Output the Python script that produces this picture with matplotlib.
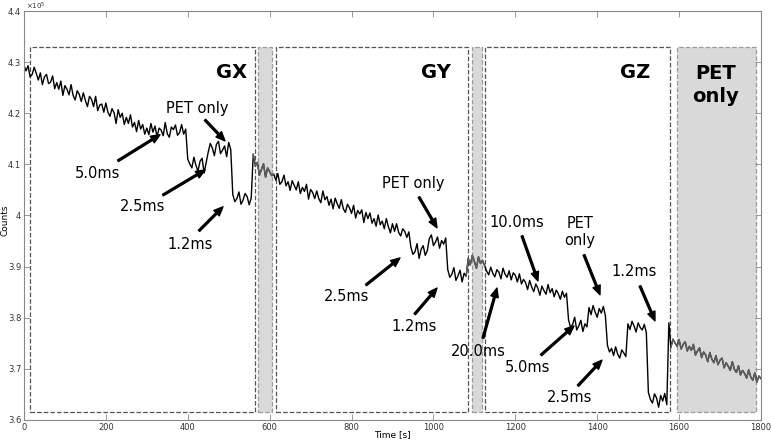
import numpy as np
import matplotlib
matplotlib.use("Agg")
import matplotlib.pyplot as plt
from matplotlib.patches import Rectangle
from matplotlib.ticker import FuncFormatter

# counts (x 1e5), one sample every 5 s
gx_5ms = [4.293, 4.283, 4.293, 4.271, 4.276, 4.290, 4.278, 4.265, 4.279, 4.256,
          4.271, 4.276, 4.258, 4.261, 4.273, 4.248, 4.260, 4.247, 4.263, 4.235,
          4.254, 4.247, 4.236, 4.256, 4.235, 4.226, 4.244, 4.237, 4.223, 4.240,
          4.225, 4.213, 4.233, 4.227, 4.213, 4.233, 4.205, 4.216, 4.218, 4.202,
          4.220, 4.202, 4.194, 4.209, 4.201, 4.180, 4.207, 4.192, 4.200, 4.178,
          4.192, 4.180, 4.197, 4.173, 4.182, 4.164, 4.186, 4.169, 4.178, 4.159,
          4.171, 4.158, 4.180, 4.163, 4.175, 4.154, 4.171, 4.167, 4.156, 4.182,
          4.160, 4.153, 4.173, 4.168, 4.177, 4.157, 4.162, 4.178, 4.159, 4.169]
gx_25ms = [4.110, 4.101, 4.093, 4.114, 4.098, 4.087, 4.106, 4.112, 4.083, 4.103]
gx_pet = [4.124, 4.141, 4.132, 4.117, 4.139, 4.145, 4.121, 4.128, 4.136, 4.115,
          4.143, 4.129]
gx_12ms = [4.041, 4.027, 4.033, 4.046, 4.022, 4.030, 4.043, 4.037, 4.021, 4.034]
rest_1 = [4.120, 4.097, 4.104, 4.079, 4.090, 4.101, 4.075, 4.093, 4.086, 4.078]
gy_5ms = [4.081, 4.069, 4.082, 4.061, 4.066, 4.079, 4.058, 4.066, 4.049, 4.068,
          4.059, 4.050, 4.066, 4.043, 4.055, 4.047, 4.061, 4.032, 4.051, 4.045,
          4.033, 4.048, 4.033, 4.025, 4.048, 4.031, 4.037, 4.020, 4.032, 4.013,
          4.034, 4.023, 4.014, 4.031, 4.013, 4.006, 4.022, 4.015, 4.004, 4.020,
          3.995, 4.010, 4.003, 4.011, 3.986, 4.006, 3.994, 4.005, 3.985, 3.994,
          3.979, 4.001, 3.982, 3.989, 3.974, 3.994, 3.978, 3.966, 3.984, 3.969,
          3.984, 3.967, 3.960, 3.974, 3.969, 3.957, 3.968]
gy_25ms = [3.938, 3.924, 3.929, 3.945, 3.916, 3.934, 3.941, 3.922, 3.931]
gy_pet = [3.955, 3.962, 3.941, 3.948, 3.958, 3.936, 3.951, 3.944, 3.956]
gy_12ms = [3.894, 3.879, 3.885, 3.898, 3.873, 3.882, 3.893, 3.870, 3.887, 3.881]
rest_2 = [3.916, 3.903, 3.922, 3.910, 3.897, 3.919, 3.906, 3.912]
gz_long = [3.902, 3.891, 3.884, 3.899, 3.887, 3.880, 3.894, 3.889, 3.876, 3.897,
           3.885, 3.879, 3.892, 3.874, 3.888, 3.883, 3.870, 3.886, 3.866, 3.875,
           3.869, 3.855, 3.873, 3.860, 3.851, 3.866, 3.858, 3.844, 3.862, 3.853,
           3.846, 3.865, 3.849, 3.857, 3.841, 3.854, 3.847, 3.836, 3.852, 3.840,
           3.848]
gz_a = [3.796, 3.781, 3.787, 3.801, 3.776, 3.784, 3.795, 3.773, 3.788, 3.782]
gz_pet = [3.820, 3.806, 3.824, 3.811, 3.801, 3.818, 3.809, 3.822, 3.804]
gz_b = [3.746, 3.733, 3.740, 3.726, 3.743, 3.729, 3.721, 3.737, 3.731, 3.724]
gz_c = [3.788, 3.777, 3.793, 3.784, 3.772, 3.790, 3.781, 3.776, 3.787, 3.771]
gz_d = [3.654, 3.640, 3.633, 3.651, 3.643, 3.625, 3.648, 3.637, 3.652, 3.630]
pet_only = [3.790, 3.742, 3.758, 3.751, 3.744, 3.757, 3.739, 3.748, 3.753, 3.735,
            3.744, 3.736, 3.748, 3.727, 3.735, 3.741, 3.722, 3.733, 3.727, 3.714,
            3.732, 3.719, 3.712, 3.726, 3.708, 3.717, 3.721, 3.702, 3.712, 3.705,
            3.697, 3.714, 3.699, 3.693, 3.706, 3.688, 3.697, 3.691, 3.682, 3.698,
            3.684, 3.678, 3.692, 3.674, 3.686, 3.681]

S = 1e5
time = np.arange(0, 1801, 5)
counts = np.concatenate([gx_5ms, gx_25ms, gx_pet, gx_12ms, rest_1,
                         gy_5ms, gy_25ms, gy_pet, gy_12ms, rest_2,
                         gz_long, gz_a, gz_pet, gz_b, gz_c, gz_d, pet_only]) * S

fig = plt.figure(figsize=(7.71, 4.40), dpi=100)
ax = fig.add_axes([0.0311, 0.0455, 0.9559, 0.9295])

# measurement boxes
y0, y1 = 3.6156 * S, 4.3296 * S
for a, b in [(14.7, 564), (615.5, 1084.4), (1126, 1577.7)]:
    ax.add_patch(Rectangle((a, y0), b - a, y1 - y0, fill=False, ec='#555555',
                           ls='--', lw=0.9, zorder=1))
for a, b in [(571.5, 605.7), (1093, 1119), (1595, 1788)]:
    ax.add_patch(Rectangle((a, y0), b - a, y1 - y0, fc='#d9d9d9', ec='#9a9a9a',
                           ls='--', lw=0.9, zorder=0))

ax.plot(time, counts, color='black', lw=1.0, zorder=2)
rest = ((time >= 560) & (time <= 610)) | ((time >= 1080) & (time <= 1125)) | (time >= 1580)
ax.plot(time, np.where(rest, counts, np.nan), color='#606060', lw=1.0, zorder=3)

ax.set_xlim(0, 1800)
ax.set_ylim(3.6 * S, 4.4 * S)
ax.set_xticks(np.arange(0, 1801, 200))
ax.set_yticks(np.arange(3.6, 4.41, 0.1) * S)
ax.yaxis.set_major_formatter(FuncFormatter(lambda v, p: '%g' % round(v / S, 2)))
ax.tick_params(direction='in', top=True, right=True, length=4, width=0.6,
               color='#888888', labelsize=6, labelcolor='#333333', pad=2)
for s in ax.spines.values():
    s.set_color('#888888')
    s.set_linewidth(0.8)
fig.text(0.509, 0.002, 'Time [s]', fontsize=6.5, ha='center', va='bottom')
fig.text(0.001, 0.5, 'Counts', fontsize=6.5, rotation=90, ha='left', va='center')
fig.text(0.034, 0.999, r'$\times10^5$', fontsize=5, color='#333333',
         ha='left', va='top')

# region labels
for x, y, lab in [(508, 4.279, 'GX'), (1006, 4.279, 'GY'), (1492, 4.279, 'GZ'),
                  (1690, 4.255, 'PET\nonly')]:
    ax.text(x, y * S, lab, fontsize=14, fontweight='bold', ha='center',
            va='center', linespacing=1.3)

arrow = dict(facecolor='black', edgecolor='black', width=1.3, headwidth=5.5,
             headlength=6.5, shrink=0.0)
# label, label position, arrow tail, arrow tip
notes = [
    ('5.0ms', (180.7, 4.083), (229.6, 4.107), (332.2, 4.158)),
    ('2.5ms', (290.6, 4.017), (339.5, 4.040), (442.1, 4.089)),
    ('1.2ms', (405.4, 3.944), (427.4, 3.970), (486.0, 4.017)),
    ('PET only', (422.5, 4.210), (442.1, 4.187), (490.9, 4.146)),
    ('PET only', (950.1, 4.062), (964.7, 4.036), (1008.7, 3.976)),
    ('2.5ms', (788.9, 3.841), (835.3, 3.864), (918.3, 3.917)),
    ('1.2ms', (952.5, 3.782), (954.3, 3.807), (1008.7, 3.858)),
    ('10.0ms', (1204.0, 3.987), (1216.3, 3.960), (1255.3, 3.872)),
    ('20.0ms', (1108.8, 3.733), (1121.0, 3.760), (1155.2, 3.858)),
    ('5.0ms', (1230.9, 3.702), (1262.7, 3.727), (1343.3, 3.784)),
    ('PET\nonly', (1357.9, 3.968), (1367.7, 3.923), (1406.8, 3.845)),
    ('1.2ms', (1489.8, 3.890), (1504.5, 3.862), (1541.1, 3.794)),
    ('2.5ms', (1333.5, 3.643), (1353.0, 3.667), (1411.6, 3.717)),
]
for lab, (sx, sy), (ax_, ay), (tx, ty) in notes:
    ax.annotate('', xy=(tx, ty * S), xytext=(ax_, ay * S), arrowprops=arrow,
                zorder=5)
    ax.text(sx, sy * S, lab, fontsize=10.5, ha='center', va='center', zorder=5)

fig.savefig('out.png', dpi=100)
